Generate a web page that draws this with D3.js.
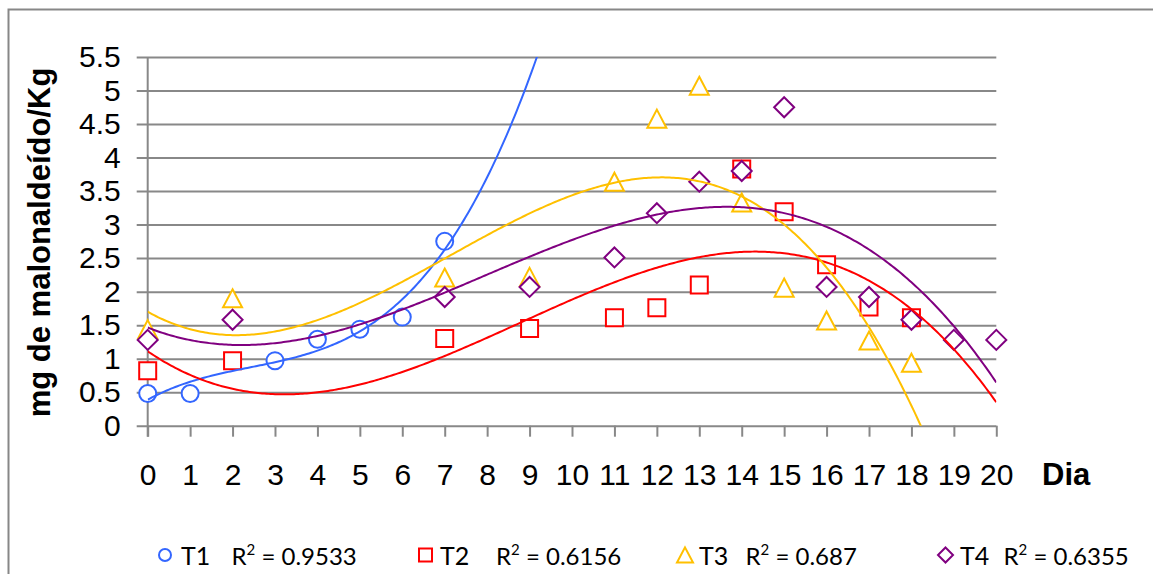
<!DOCTYPE html>
<html>
<head>
<meta charset="utf-8">
<script src="https://cdn.jsdelivr.net/npm/d3@7"></script>
<style>
  html, body { margin: 0; padding: 0; background: #fff; }
  svg { display: block; }
</style>
</head>
<body>
<svg id="chart" width="1153" height="574"></svg>
<script>
// Day axis categories and value-axis ticks
const days = d3.range(0, 21);
const yTicks = [0, 0.5, 1, 1.5, 2, 2.5, 3, 3.5, 4, 4.5, 5, 5.5];
const yTickLabels = ["0", "0.5", "1", "1.5", "2", "2.5", "3", "3.5", "4", "4.5", "5", "5.5"];

// Measured malonaldehyde (mg/Kg) per treatment
const t1Days = [0, 1, 3, 4, 5, 6, 7];
const t1Values = [0.48, 0.48, 0.97, 1.29, 1.44, 1.62, 2.75];

const t2Days = [0, 2, 7, 9, 11, 12, 13, 14, 15, 16, 17, 18];
const t2Values = [0.82, 0.97, 1.30, 1.45, 1.61, 1.76, 2.10, 3.83, 3.19, 2.40, 1.77, 1.61];

const t3Days = [0, 2, 7, 9, 11, 12, 13, 14, 15, 16, 17, 18];
const t3Values = [1.44, 1.90, 2.21, 2.22, 3.64, 4.58, 5.07, 3.33, 2.06, 1.57, 1.27, 0.94];

const t4Days = [0, 2, 7, 9, 11, 12, 13, 14, 15, 16, 17, 18, 19, 20];
const t4Values = [1.28, 1.58, 1.92, 2.07, 2.51, 3.17, 3.64, 3.80, 4.75, 2.07, 1.92, 1.58, 1.28, 1.28];

const seriesNames = ["T1", "T2", "T3", "T4"];
const r2Labels = ["0.9533", "0.6156", "0.687", "0.6355"];

// ---- layout ----
const plot = { left: 147.7, right: 996.3, top: 57, bottom: 425.7 };
const colors = ["#3366FF", "#FF0000", "#FFC000", "#800080"];
const shapes = ["circle", "square", "triangle", "diamond"];
const legendX = [165, 425.5, 685, 945.5];   // marker centres
const legendY = 555;
const legendTextX = [181, 440, 699, 960];
const legendR2X = [231.5, 496, 745.5, 1003.5];

const svg = d3.select("#chart");

const x = d3.scaleLinear().domain([0, 20]).range([plot.left, plot.right]);
const y = d3.scaleLinear().domain([0, 5.5]).range([plot.bottom, plot.top]);

// outer chart frame
svg.append("rect")
  .attr("x", 8.5).attr("y", 9.5)
  .attr("width", 1300).attr("height", 700)
  .attr("fill", "none").attr("stroke", "#878787").attr("stroke-width", 2);

// value axis with gridlines
const yAxis = svg.append("g")
  .attr("transform", `translate(${plot.left},0)`)
  .call(d3.axisLeft(y)
    .tickValues(yTicks)
    .tickFormat((d, i) => yTickLabels[i])
    .tickSizeInner(-(plot.right - plot.left))
    .tickSizeOuter(0)
    .tickPadding(27));
yAxis.select(".domain").remove();
yAxis.selectAll(".tick line")
  .attr("x1", -11)
  .attr("stroke", "#888").attr("stroke-width", 2);
yAxis.selectAll(".tick text")
  .attr("font-family", "'Liberation Sans', Arial, sans-serif")
  .attr("font-size", 30).attr("fill", "#000");

// day axis
const xAxis = svg.append("g")
  .attr("transform", `translate(0,${plot.bottom})`)
  .call(d3.axisBottom(x)
    .tickValues(days)
    .tickFormat(d3.format("d"))
    .tickSizeInner(11)
    .tickSizeOuter(0)
    .tickPadding(27));
xAxis.select(".domain").remove();
xAxis.selectAll(".tick line").attr("stroke", "#888").attr("stroke-width", 2);
xAxis.selectAll(".tick text")
  .attr("font-family", "'Liberation Sans', Arial, sans-serif")
  .attr("font-size", 30).attr("fill", "#000");

// vertical axis line
svg.append("line")
  .attr("x1", plot.left).attr("x2", plot.left)
  .attr("y1", y(5.5)).attr("y2", plot.bottom + 11)
  .attr("stroke", "#888").attr("stroke-width", 2);

// axis titles
svg.append("text")
  .attr("transform", `translate(50,${(62 + 423) / 2}) rotate(-90)`)
  .attr("text-anchor", "middle")
  .attr("font-family", "'Liberation Sans', Arial, sans-serif")
  .attr("font-weight", "bold").attr("font-size", 31)
  .text("mg de malonaldeído/Kg");

svg.append("text")
  .attr("x", 1042).attr("y", 485)
  .attr("font-family", "'Liberation Sans', Arial, sans-serif")
  .attr("font-weight", "bold").attr("font-size", 31)
  .text("Dia");

// ---- marker shapes (centred on their bounding box) ----
function markerPath(shape, s) {
  const p = d3.path();
  if (shape === "circle") {
    p.moveTo(s, 0); p.arc(0, 0, s, 0, 2 * Math.PI);
  } else if (shape === "square") {
    p.rect(-s, -s, 2 * s, 2 * s);
  } else if (shape === "triangle") {
    const h = s * 0.95;
    p.moveTo(0, -h); p.lineTo(s, h); p.lineTo(-s, h); p.closePath();
  } else {
    p.moveTo(0, -s); p.lineTo(s, 0); p.lineTo(0, s); p.lineTo(-s, 0); p.closePath();
  }
  return p.toString();
}
const markerSize = { circle: 8.5, square: 8.5, triangle: 9.5, diamond: 10 };
const legendSize = { circle: 6, square: 6.5, triangle: 8, diamond: 7.5 };

// ---- cubic least-squares trend ----
function polyFit(xs, ys, order) {
  const n = order + 1;
  const A = Array.from({ length: n }, () => new Array(n + 1).fill(0));
  xs.forEach((xv, k) => {
    for (let i = 0; i < n; i++) {
      for (let j = 0; j < n; j++) A[i][j] += Math.pow(xv, i + j);
      A[i][n] += ys[k] * Math.pow(xv, i);
    }
  });
  for (let c = 0; c < n; c++) {
    let piv = c;
    for (let r = c + 1; r < n; r++) if (Math.abs(A[r][c]) > Math.abs(A[piv][c])) piv = r;
    [A[c], A[piv]] = [A[piv], A[c]];
    for (let r = 0; r < n; r++) {
      if (r === c) continue;
      const f = A[r][c] / A[c][c];
      for (let k = c; k <= n; k++) A[r][k] -= f * A[c][k];
    }
  }
  return A.map((row, i) => row[n] / row[i]);
}
const polyEval = (coef, xv) => coef.reduce((s, c, i) => s + c * Math.pow(xv, i), 0);

const series = [
  { days: t1Days, values: t1Values },
  { days: t2Days, values: t2Values },
  { days: t3Days, values: t3Values },
  { days: t4Days, values: t4Values }
];

svg.append("clipPath").attr("id", "plotClip")
  .append("rect")
  .attr("x", plot.left).attr("y", plot.top)
  .attr("width", plot.right - plot.left).attr("height", plot.bottom - plot.top);

// markers
series.forEach((s, i) => {
  svg.append("g").selectAll("path")
    .data(s.days.map((d, k) => [d, s.values[k]]))
    .join("path")
    .attr("transform", d => `translate(${x(d[0])},${y(d[1])})`)
    .attr("d", markerPath(shapes[i], markerSize[shapes[i]]))
    .attr("fill", "#fff")
    .attr("stroke", colors[i]).attr("stroke-width", 2);
});

// polynomial (order 3) trend lines over the whole day range
const line = d3.line().x(d => x(d[0])).y(d => y(d[1]));
series.forEach((s, i) => {
  const coef = polyFit(s.days, s.values, 3);
  const pts = d3.range(0, 20.0001, 0.05).map(t => [t, polyEval(coef, t)]);
  svg.append("path")
    .attr("clip-path", "url(#plotClip)")
    .attr("d", line(pts))
    .attr("fill", "none")
    .attr("stroke", colors[i]).attr("stroke-width", 2);
});

// legend
seriesNames.forEach((name, i) => {
  svg.append("path")
    .attr("transform", `translate(${legendX[i]},${legendY})`)
    .attr("d", markerPath(shapes[i], legendSize[shapes[i]]))
    .attr("fill", "#fff")
    .attr("stroke", colors[i]).attr("stroke-width", 2);
  svg.append("text")
    .attr("x", legendTextX[i]).attr("y", 565)
    .attr("font-family", "Lato, 'Open Sans', sans-serif").attr("font-size", 25)
    .text(name);
  const t = svg.append("text")
    .attr("x", legendR2X[i]).attr("y", 565)
    .attr("font-family", "Lato, 'Open Sans', sans-serif").attr("font-size", 24);
  t.append("tspan").text("R");
  t.append("tspan").attr("dy", -10).attr("font-size", 15).text("2");
  t.append("tspan").attr("dy", 10).text(" = " + r2Labels[i]);
});
</script>
</body>
</html>
